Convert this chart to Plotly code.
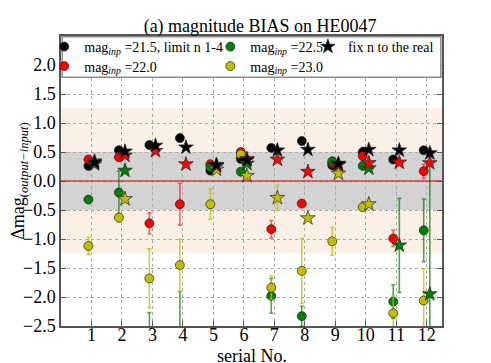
import plotly.graph_objects as go

serial = list(range(1, 13))

# mag_inp = 21.5 (n limited to 1-4) and the "fix n" runs
black_fit = [0.26, 0.53, 0.62, 0.74, 0.18, 0.38, 0.57, 0.69, 0.27, 0.50, 0.37, 0.53]
black_fix = [0.32, 0.51, 0.61, 0.58, 0.28, 0.36, 0.53, 0.54, 0.30, 0.54, 0.53, 0.48]

# mag_inp = 22.0
red_fit = [0.37, 0.41, -0.73, -0.40, 0.29, 0.50, -0.83, -0.39, 0.31, 0.43, -0.99, 0.17]
red_fit_err = [0, 0, 0.18, 0.36, 0, 0, 0.15, 0, 0, 0, 0.14, 0.12]
red_fix = [0.34, 0.44, 0.52, 0.29, 0.26, 0.38, 0.37, 0.16, 0.28, 0.31, 0.32, 0.31]

# mag_inp = 22.5
green_fit = [-0.32, -0.20, -2.90, -2.80, 0.24, 0.16, -1.98, -2.33, 0.34, 0.26, -2.08, -0.85]
green_fit_err = [0, 0.37, 0.63, 0.89, 0, 0, 0.30, 0.17, 0, 0, 0.29, 0.54]
green_fix = [0.29, 0.18, None, None, 0.26, 0.30, None, None, 0.28, 0.22, -1.11, -1.95]
green_fix_err = [0, 0, 0, 0, 0, 0, 0, 0, 0, 0, 0.81, 2.51]

# mag_inp = 23.0
yellow_fit = [-1.12, -0.63, -1.68, -1.45, -0.40, 0.46, -1.84, -1.55, -1.04, -0.45, -2.28, -2.06]
yellow_fit_err = [0.15, 0.08, 0.51, 0.45, 0.26, 0, 0.20, 0.56, 0.24, 0, 0.30, 0.55]
yellow_fix = [None, -0.31, None, None, 0.20, 0.09, -0.29, -0.64, 0.13, -0.40, None, None]
yellow_fix_err = [0, 0, 0, 0, 0, 0, 0.22, 0, 0, 0, 0, 0]

y_ticks = [-2.5, -2.0, -1.5, -1.0, -0.5, 0.0, 0.5, 1.0, 1.5, 2.0]

FONT = '"Liberation Serif", serif'
BLACK, RED, GREEN, YELLOW = "#000000", "#ff0000", "#007f00", "#bfbf00"
ERR = {
    BLACK: "rgba(0,0,0,0.7)",
    RED: "rgba(255,0,0,0.6)",
    GREEN: "rgba(0,127,0,0.7)",
    YELLOW: "rgba(191,191,0,0.75)",
}

fig = go.Figure()


def add_series(values, color, symbol, shift, err=None, name=None, legend=None, size=9):
    xs = [s + shift for s in serial]
    fig.add_trace(go.Scatter(
        x=xs, y=values, mode="markers", name=name or "",
        showlegend=name is not None, legend=legend,
        marker=dict(color=color, symbol=symbol, size=size,
                    line=dict(color="#222222", width=0.7)),
        error_y=dict(type="data", array=err, visible=err is not None,
                     color=ERR[color], thickness=1.6, width=2),
    ))


m = "mag<sub><i>inp</i></sub> ="
add_series(black_fit, BLACK, "circle", -0.1, name=m + "21.5, limit n 1-4", legend="legend")
add_series(red_fit, RED, "circle", -0.1, err=red_fit_err, name=m + "22.0", legend="legend2")
add_series(green_fit, GREEN, "circle", -0.1, err=green_fit_err, name=m + "22.5", legend="legend3")
add_series(yellow_fit, YELLOW, "circle", -0.1, err=yellow_fit_err, name=m + "23.0", legend="legend4")
add_series(yellow_fix, YELLOW, "star", 0.1, err=yellow_fix_err, size=11)
add_series(green_fix, GREEN, "star", 0.1, err=green_fix_err, size=11)
add_series(red_fix, RED, "star", 0.1, size=11)
add_series(black_fix, BLACK, "star", 0.1, name="fix n to the real", legend="legend5", size=11)

# shaded bands and the zero line
fig.add_hrect(y0=-1.25, y1=1.25, fillcolor="#faf0e6", line_width=0, layer="below")
fig.add_hrect(y0=-0.5, y1=0.5, fillcolor="#d3d3d3", line_width=0, layer="below")
fig.add_hline(y=0, line=dict(color="#cc0000", width=1), layer="above")

# legend frame
fig.add_shape(type="rect", xref="paper", yref="paper", x0=0.003, x1=0.997, y0=0.858, y1=0.997,
              fillcolor="white", line=dict(color="#8c8c8c", width=1.5), layer="above")

leg = dict(bgcolor="rgba(0,0,0,0)", borderwidth=0, yanchor="middle", xanchor="left",
           font=dict(family=FONT, size=14, color="black"), itemwidth=30)
row1, row2 = 0.962, 0.895
col1, col2, col3 = -0.044, 0.392, 0.648

# the page body adds an 8px margin, so the figure is 8px smaller than the window
fig.update_layout(
    width=483, height=355,
    margin=dict(l=53, r=49, t=28, b=37, autoexpand=False),
    paper_bgcolor="white", plot_bgcolor="white",
    font=dict(family=FONT, size=18, color="black"),
    title=dict(text="(a) magnitude BIAS on HE0047", x=0.522, xanchor="center",
               yref="container", y=0.951, yanchor="middle", font=dict(family=FONT, size=18)),
    legend=dict(leg, x=col1, y=row1),
    legend2=dict(leg, x=col1, y=row2),
    legend3=dict(leg, x=col2, y=row1),
    legend4=dict(leg, x=col2, y=row2),
    legend5=dict(leg, x=col3, y=row1),
)

axis = dict(showline=True, linecolor="#555555", linewidth=1.5, mirror="ticks",
            ticks="inside", ticklen=5, tickcolor="#555555", automargin=False,
            showgrid=True, gridcolor="#aaaaaa", griddash="dot", gridwidth=1,
            zeroline=False)

fig.update_xaxes(axis, range=[0, 12.5], tickvals=serial, ticklabelstandoff=-8,
                 tickfont=dict(family=FONT, size=18, color="black"))
fig.update_yaxes(axis, range=[-2.5, 2.5], tickvals=y_ticks, tickformat=".1f",
                 tickfont=dict(family=FONT, size=18, color="black"),
                 title=dict(text="Δmag<sub>(<i>output−input</i>)</sub>",
                            font=dict(family=FONT, size=18), standoff=4))

fig.add_annotation(text="serial No.", xref="paper", yref="paper", x=0.5, y=-0.102,
                   xanchor="center", yanchor="middle", showarrow=False,
                   font=dict(family=FONT, size=18, color="black"))

fig.write_html("out.html")
